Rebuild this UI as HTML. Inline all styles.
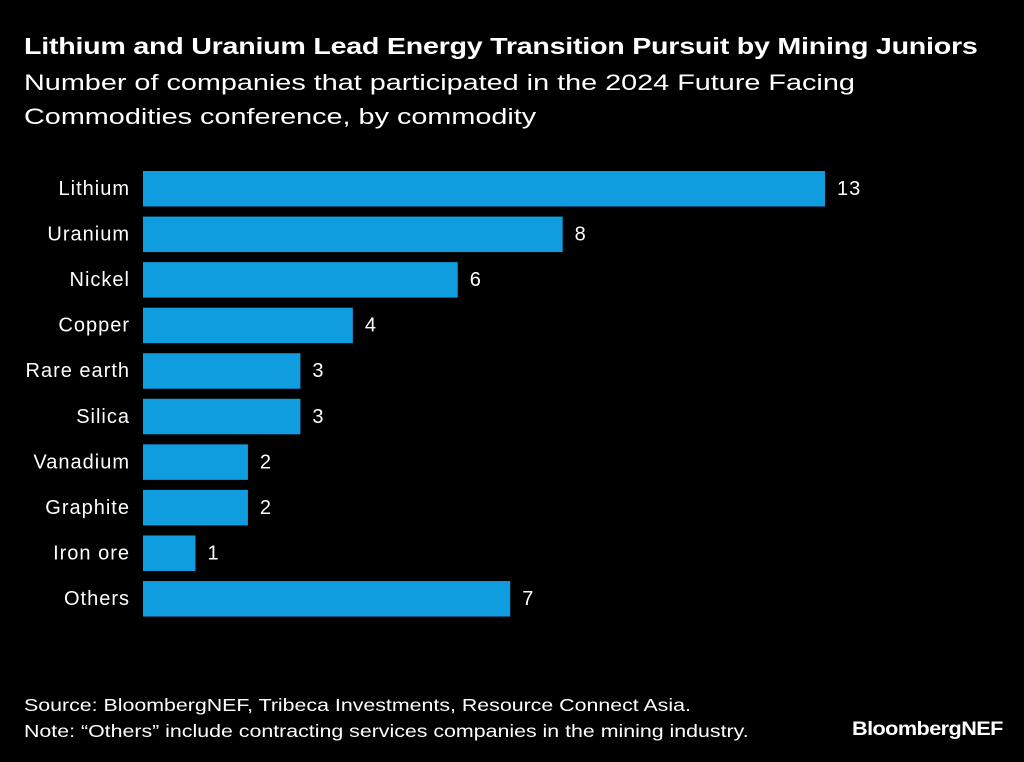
<!DOCTYPE html>
<html><head><meta charset="utf-8"><style>
body{margin:0;background:#000;width:1024px;height:762px;overflow:hidden;font-family:"Liberation Sans",sans-serif;color:#fff}
.t{position:absolute;left:24px;white-space:nowrap;transform-origin:0 0}
</style></head><body>
<div class="t" style="top:33px;font-size:23px;font-weight:bold;letter-spacing:-0.2px;transform:scaleX(1.245)">Lithium and Uranium Lead Energy Transition Pursuit by Mining Juniors</div>
<div class="t" style="top:66px;font-size:22.5px;line-height:34px;transform:scaleX(1.28)">Number of companies that participated in the 2024 Future Facing<br>Commodities conference, by commodity</div>
<svg id="chart" width="1024" height="762" style="position:absolute;left:0;top:0"></svg>
<div class="t" style="top:692px;font-size:17.5px;line-height:26px;transform:scaleX(1.22)">Source: BloombergNEF, Tribeca Investments, Resource Connect Asia.<br>Note: “Others” include contracting services companies in the mining industry.</div>
<div class="t" style="left:852px;top:719px;font-size:19px;font-weight:bold;letter-spacing:-0.5px;transform:scaleX(1.14)">BloombergNEF</div>
<script>
const categories=["Lithium","Uranium","Nickel","Copper","Rare earth","Silica","Vanadium","Graphite","Iron ore","Others"];
const values=[13,8,6,4,3,3,2,2,1,7];
const svg=document.getElementById('chart');
const NS='http://www.w3.org/2000/svg';
const x=v=>143+v*52.46;
const y=i=>171+i*45.56;
categories.forEach((c,i)=>{
 const r=document.createElementNS(NS,'rect');
 r.setAttribute('x',x(0));r.setAttribute('y',y(i));
 r.setAttribute('width',x(values[i])-x(0));r.setAttribute('height',35.5);
 r.setAttribute('fill','#0f9ddf');
 
 
 svg.appendChild(r);
 const l=document.createElementNS(NS,'text');
 l.setAttribute('x',130);l.setAttribute('y',y(i)+24);l.setAttribute('text-anchor','end');
 l.setAttribute('fill','#fff');l.setAttribute('font-size','20');l.setAttribute('letter-spacing','1');l.setAttribute('font-family','Liberation Sans, sans-serif');
 l.textContent=c;
 
 
 svg.appendChild(l);
 const v=document.createElementNS(NS,'text');
 v.setAttribute('x',x(values[i])+12);v.setAttribute('y',y(i)+24);
 v.setAttribute('fill','#fff');v.setAttribute('font-size','20');v.setAttribute('letter-spacing','1');v.setAttribute('font-family','Liberation Sans, sans-serif');
 v.textContent=values[i];
 
 
 svg.appendChild(v);
});
</script>
</body></html>
